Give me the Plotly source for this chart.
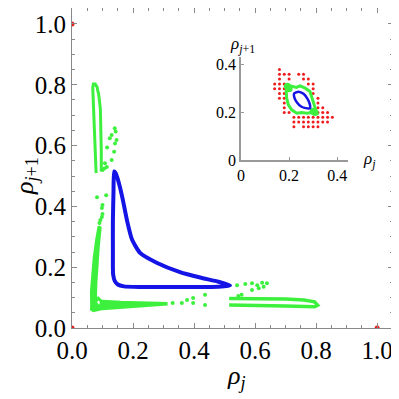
import plotly.graph_objects as go

# ---------------- data: main panel ----------------
blue_x = [0.138, 0.136, 0.134, 0.134, 0.134, 0.135, 0.14, 0.15, 0.17, 0.22, 0.3, 0.4, 0.48, 0.518,
          0.48, 0.42, 0.354, 0.279, 0.223, 0.197, 0.18, 0.167, 0.158, 0.15, 0.143, 0.138]
blue_y = [0.515, 0.45, 0.35, 0.25, 0.2, 0.175, 0.155, 0.143, 0.137, 0.135, 0.135, 0.135, 0.136, 0.14,
          0.152, 0.166, 0.184, 0.214, 0.247, 0.29, 0.355, 0.42, 0.46, 0.49, 0.51, 0.515]

g_loop_up_x = [0.079, 0.076, 0.073, 0.07, 0.068, 0.07, 0.076, 0.082, 0.088, 0.093, 0.095, 0.096, 0.096]
g_loop_up_y = [0.51, 0.58, 0.66, 0.74, 0.79, 0.803, 0.803, 0.793, 0.765, 0.72, 0.65, 0.58, 0.515]

g_stem_x = [0.087, 0.094, 0.088, 0.083, 0.08, 0.078, 0.063, 0.062, 0.066, 0.071, 0.079, 0.087]
g_stem_y = [0.335, 0.33, 0.27, 0.21, 0.15, 0.08, 0.06, 0.12, 0.18, 0.23, 0.29, 0.335]

g_band_x = [0.062, 0.1, 0.16, 0.22, 0.27, 0.31, 0.31, 0.27, 0.22, 0.16, 0.1, 0.07, 0.06]
g_band_y = [0.085, 0.09, 0.086, 0.084, 0.083, 0.082, 0.077, 0.074, 0.071, 0.067, 0.062, 0.055, 0.062]

g_ring_x = [0.076, 0.086, 0.096, 0.095, 0.086, 0.076]
g_ring_y = [0.085, 0.098, 0.088, 0.075, 0.072, 0.085]

g_loop_right_x = [0.515, 0.6, 0.7, 0.76, 0.795, 0.805, 0.795, 0.7, 0.6, 0.515]
g_loop_right_y = [0.097, 0.097, 0.095, 0.092, 0.086, 0.075, 0.07, 0.072, 0.074, 0.076]

g_dots_x = [0.14, 0.143, 0.13, 0.124, 0.146, 0.141, 0.115, 0.138, 0.13, 0.108, 0.1, 0.106, 0.114,
            0.082, 0.112, 0.1, 0.098, 0.1, 0.098, 0.093, 0.09,
            0.33, 0.36, 0.377, 0.397, 0.397, 0.436, 0.436, 0.545, 0.556,
            0.541, 0.568, 0.59, 0.607, 0.623, 0.639, 0.628, 0.612, 0.59]
g_dots_y = [0.657, 0.646, 0.635, 0.624, 0.618, 0.607, 0.594, 0.58, 0.553, 0.542, 0.52, 0.525, 0.53,
            0.43, 0.437, 0.405, 0.395, 0.375, 0.365, 0.355, 0.345,
            0.082, 0.082, 0.092, 0.099, 0.082, 0.109, 0.076, 0.105, 0.109,
            0.141, 0.145, 0.147, 0.141, 0.149, 0.147, 0.136, 0.131, 0.125]

red_x = [0.0, 0.0, 1.0]
red_y = [1.0, 0.0, 0.0]

main_ticks = [0.0, 0.2, 0.4, 0.6, 0.8, 1.0]
main_ticktext = ["0.0", "0.2", "0.4", "0.6", "0.8", "1.0"]

# ---------------- data: inset ----------------
in_blue_x = [0.221, 0.239, 0.26, 0.276, 0.286, 0.287, 0.27, 0.25, 0.232, 0.222, 0.221]
in_blue_y = [0.28, 0.287, 0.278, 0.258, 0.235, 0.218, 0.218, 0.225, 0.243, 0.262, 0.28]

in_green_x = [0.19, 0.211, 0.23, 0.246, 0.267, 0.287, 0.294, 0.299, 0.308, 0.315, 0.295, 0.274,
              0.252, 0.232, 0.211, 0.197, 0.19, 0.188, 0.19]
in_green_y = [0.316, 0.309, 0.305, 0.312, 0.302, 0.288, 0.267, 0.246, 0.224, 0.197, 0.2, 0.197,
              0.2, 0.197, 0.211, 0.232, 0.26, 0.288, 0.316]
in_blob_x = [0.193, 0.2, 0.3, 0.308]
in_blob_y = [0.31, 0.3, 0.205, 0.2]

in_red_pts = [
    (0.16, 0.38),
    (0.16, 0.36), (0.18, 0.36), (0.20, 0.36), (0.24, 0.36), (0.26, 0.36),
    (0.16, 0.34), (0.20, 0.34), (0.26, 0.34), (0.28, 0.34),
    (0.14, 0.32), (0.16, 0.32), (0.18, 0.32), (0.28, 0.32), (0.30, 0.32),
    (0.14, 0.30), (0.16, 0.30), (0.18, 0.30), (0.30, 0.30),
    (0.16, 0.28), (0.18, 0.28), (0.30, 0.28),
    (0.16, 0.26), (0.18, 0.26), (0.32, 0.26),
    (0.18, 0.24), (0.32, 0.24),
    (0.18, 0.22), (0.32, 0.22), (0.34, 0.22),
    (0.18, 0.20), (0.20, 0.20), (0.32, 0.20), (0.34, 0.20), (0.36, 0.20),
    (0.22, 0.18), (0.24, 0.18), (0.26, 0.18), (0.28, 0.18), (0.30, 0.18), (0.32, 0.18),
    (0.34, 0.18), (0.36, 0.18), (0.38, 0.18),
    (0.22, 0.16), (0.24, 0.16), (0.26, 0.16), (0.28, 0.16), (0.30, 0.16), (0.32, 0.16),
    (0.34, 0.16), (0.36, 0.16),
    (0.22, 0.14), (0.26, 0.14), (0.28, 0.14), (0.30, 0.14), (0.32, 0.14),
]
in_red_x = [p[0] for p in in_red_pts]
in_red_y = [p[1] for p in in_red_pts]

inset_ticks = [0, 0.2, 0.4]
inset_ticktext = ["0", "0.2", "0.4"]

# ---------------- styles ----------------
GREEN = "#3ef03e"
BLUE = "#1414e6"
RED = "#ee1c1c"
FONT = "Liberation Serif, Times New Roman, Times, serif"
FRAME = "#888888"

fig = go.Figure()

# main panel
fig.add_trace(go.Scatter(x=g_stem_x, y=g_stem_y, mode="lines", fill="toself", fillcolor=GREEN,
                         line=dict(color=GREEN, width=2)))
fig.add_trace(go.Scatter(x=g_band_x, y=g_band_y, mode="lines", fill="toself", fillcolor=GREEN,
                         line=dict(color=GREEN, width=2)))
fig.add_trace(go.Scatter(x=g_ring_x, y=g_ring_y, mode="lines", fill="toself", fillcolor="white",
                         line=dict(color=GREEN, width=3)))
fig.add_trace(go.Scatter(x=g_loop_up_x, y=g_loop_up_y, mode="lines",
                         line=dict(color=GREEN, width=3)))
fig.add_trace(go.Scatter(x=g_loop_right_x, y=g_loop_right_y, mode="lines",
                         line=dict(color=GREEN, width=3.5)))
fig.add_trace(go.Scatter(x=g_dots_x, y=g_dots_y, mode="markers",
                         marker=dict(color=GREEN, size=4)))
fig.add_trace(go.Scatter(x=blue_x, y=blue_y, mode="lines",
                         line=dict(color=BLUE, width=4, shape="spline", smoothing=0.5)))
fig.add_trace(go.Scatter(x=red_x, y=red_y, mode="markers",
                         marker=dict(color=RED, size=5)))

# inset
fig.add_trace(go.Scatter(x=in_red_x, y=in_red_y, mode="markers", xaxis="x2", yaxis="y2",
                         marker=dict(color=RED, size=3)))
fig.add_trace(go.Scatter(x=in_green_x, y=in_green_y, mode="lines", xaxis="x2", yaxis="y2",
                         line=dict(color=GREEN, width=3)))
fig.add_trace(go.Scatter(x=in_blob_x, y=in_blob_y, mode="markers", xaxis="x2", yaxis="y2",
                         marker=dict(color=GREEN, size=7)))
fig.add_trace(go.Scatter(x=in_blue_x, y=in_blue_y, mode="lines", xaxis="x2", yaxis="y2",
                         line=dict(color=BLUE, width=2.5, shape="spline", smoothing=0.6)))

main_axis = dict(
    tickvals=main_ticks, ticktext=main_ticktext,
    ticks="inside", ticklen=5, tickcolor=FRAME, tickwidth=1,
    showline=True, linecolor=FRAME, linewidth=1, mirror="ticks",
    showgrid=False, zeroline=False, automargin=False,
    tickfont=dict(family=FONT, size=25, color="black"),
    minor=dict(dtick=0.05, tick0=0, ticks="inside", ticklen=3, tickcolor=FRAME, showgrid=False),
)
inset_axis = dict(
    tickvals=inset_ticks, ticktext=inset_ticktext,
    ticks="inside", ticklen=3, tickcolor="#999999",
    showline=True, linecolor="#999999", linewidth=1.5,
    showgrid=False, zeroline=False, automargin=False,
    tickfont=dict(family=FONT, size=16, color="black"),
)

# page has an 8px body margin: figure coords = page coords - 8
OFF = 8
W, H = 391, 391
L, R, T, B = 64, 6, 0, 71
PW, PH = W - L - R, H - T - B


def px(xp):
    return (xp - OFF - L) / PW


def py(yp):
    return (H - B - (yp - OFF)) / PH


fig.update_layout(
    width=W, height=H,
    margin=dict(l=L, r=R, t=T, b=B, autoexpand=False),
    paper_bgcolor="white", plot_bgcolor="white",
    showlegend=False,
    xaxis=dict(main_axis, domain=[0, 1], range=[0, 1.052]),
    yaxis=dict(main_axis, domain=[0, 1], range=[0, 1.0526]),
    xaxis2=dict(inset_axis, domain=[px(241), px(348)], anchor="y2", range=[0, 0.445]),
    yaxis2=dict(inset_axis, domain=[py(160), py(57)], anchor="x2", range=[0, 0.433]),
    annotations=[
        dict(text="<i>ρ</i><sub><i>j</i></sub>", xref="paper", yref="paper", x=px(237), y=py(377),
             xanchor="center", yanchor="middle",
             showarrow=False, font=dict(family=FONT, size=26, color="black")),
        dict(text="<i>ρ</i><sub><i>j</i>+1</sub>", xref="paper", yref="paper", x=px(26), y=py(176),
             xanchor="center", yanchor="middle",
             showarrow=False, textangle=-90, font=dict(family=FONT, size=26, color="black")),
        dict(text="<i>ρ</i><sub><i>j</i>+1</sub>", xref="paper", yref="paper", x=px(243), y=py(45),
             xanchor="center", yanchor="middle",
             showarrow=False, font=dict(family=FONT, size=17, color="black")),
        dict(text="<i>ρ</i><sub><i>j</i></sub>", xref="paper", yref="paper", x=px(369), y=py(160),
             xanchor="center", yanchor="middle",
             showarrow=False, font=dict(family=FONT, size=17, color="black")),
    ],
)

fig.write_html("out.html")
